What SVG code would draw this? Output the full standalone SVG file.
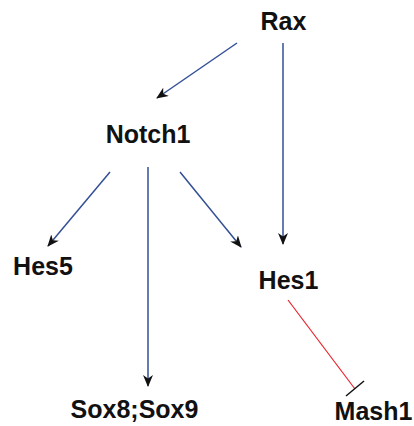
<svg xmlns="http://www.w3.org/2000/svg" width="414" height="426" viewBox="0 0 414 426">
<defs>
<style>
.lbl{font-family:"Liberation Sans",Arial,sans-serif;font-weight:bold;font-size:25px;fill:#111;text-anchor:middle}
.act{stroke:#334f95;stroke-width:1.5;fill:none;marker-end:url(#arr)}
.inh{stroke:#e8232b;stroke-width:1.2;fill:none}
.bar{stroke:#111;stroke-width:1.5}
</style>
<marker id="arr" viewBox="0 0 12 10" refX="11" refY="5" markerWidth="12" markerHeight="10" markerUnits="userSpaceOnUse" orient="auto">
<path d="M0,0 L12,5 L0,10 L3.5,5 z" fill="#111"/>
</marker>
</defs>
<g id="connectors">
<line class="act" x1="237" y1="43" x2="157" y2="98"/>
<line class="act" x1="283" y1="43" x2="283" y2="244"/>
<line class="act" x1="110" y1="172" x2="48" y2="246"/>
<line class="act" x1="148" y1="167" x2="148" y2="386"/>
<line class="act" x1="180" y1="172" x2="241" y2="247"/>
<line class="inh" x1="288" y1="300" x2="355" y2="389"/>
<line class="bar" x1="346" y1="396" x2="364" y2="381"/>
</g>
<g id="Rax"><text class="lbl" x="283.5" y="30">Rax</text></g>
<g id="Notch1"><text class="lbl" x="148" y="143">Notch1</text></g>
<g id="Hes5"><text class="lbl" x="43" y="275">Hes5</text></g>
<g id="Hes1"><text class="lbl" x="288.5" y="289">Hes1</text></g>
<g id="Sox8Sox9"><text class="lbl" x="134.5" y="418">Sox8;Sox9</text></g>
<g id="Mash1"><text class="lbl" x="373.5" y="420">Mash1</text></g>
</svg>
